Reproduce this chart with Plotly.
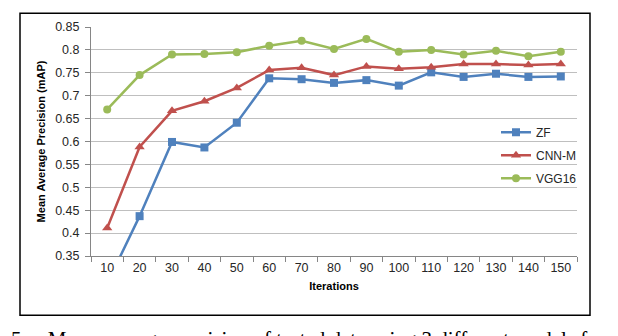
import plotly.graph_objects as go

# iteration checkpoints (x categories)
iterations = ["10", "20", "30", "40", "50", "60", "70", "80",
              "90", "100", "110", "120", "130", "140", "150"]

# mean average precision per model
zf = [0.29, 0.437, 0.599, 0.587, 0.641, 0.738, 0.736, 0.728,
      0.734, 0.722, 0.751, 0.741, 0.748, 0.741, 0.742]
cnn_m = [0.411, 0.588, 0.667, 0.688, 0.717, 0.756, 0.761, 0.745,
         0.764, 0.759, 0.762, 0.769, 0.769, 0.767, 0.769]
vgg16 = [0.67, 0.745, 0.79, 0.791, 0.795, 0.809, 0.82, 0.802,
         0.824, 0.796, 0.80, 0.79, 0.798, 0.786, 0.796]

series = [
    ("ZF", zf, "#4F81BD", "square", 8),
    ("CNN-M", cnn_m, "#C0504D", "triangle-up", 9),
    ("VGG16", vgg16, "#9BBB59", "circle", 8),
]

fig = go.Figure()
for name, vals, color, symbol, msize in series:
    fig.add_trace(go.Scatter(
        x=iterations, y=vals, name=name, mode="lines+markers",
        line=dict(color=color, width=2.5),
        marker=dict(symbol=symbol, size=msize, color=color),
        legendgroup=name,
    ))

W, H = 618, 336
L, R, T, B = 83, 49, 16, 88
pw, ph = W - L - R, H - T - B

def px_x(x):
    return (x - L) / pw

def px_y(y):
    return (H - B - y) / ph

tick_font = dict(family="Liberation Sans", size=12.5, color="#262626")

fig.update_layout(
    width=W, height=H,
    margin=dict(l=L, r=R, t=T, b=B),
    paper_bgcolor="white", plot_bgcolor="white",
    font=dict(family="Liberation Sans", color="#000000"),
    legend=dict(
        x=px_x(488), y=px_y(108), xanchor="left", yanchor="top",
        bgcolor="rgba(0,0,0,0)", font=dict(size=12, color="#262626"),
        tracegroupgap=4, itemwidth=30,
    ),
    showlegend=True,
)

fig.update_xaxes(
    type="category", range=[-0.5, 14.5],
    showline=True, linecolor="#868686", linewidth=1,
    ticks="outside", tickson="boundaries", ticklen=5, tickcolor="#868686",
    showgrid=False, tickfont=tick_font,
    title=dict(text="<b>Iterations</b>", font=dict(size=11), standoff=8),
)
fig.update_yaxes(
    range=[0.35, 0.85], dtick=0.05, tickformat="~g",
    showline=True, linecolor="#868686", linewidth=1,
    ticks="outside", ticklen=5, tickcolor="#868686", ticklabelstandoff=3,
    showgrid=True, gridcolor="#BFBFBF", gridwidth=1,
    tickfont=tick_font, zeroline=False,
    title=dict(text="<b>Mean Average Precision (mAP)</b>", font=dict(size=11), standoff=7),
)

# chart frame
fig.add_shape(
    type="rect", xref="paper", yref="paper",
    x0=px_x(12), x1=px_x(582), y0=px_y(308), y1=px_y(2),
    line=dict(color="black", width=1.5), layer="below",
)

# figure caption, cut off by the page edge as in the source
fig.add_annotation(
    xref="paper", yref="paper", x=px_x(1), y=px_y(318),
    xanchor="left", yanchor="top", showarrow=False,
    text="5.    Mean average precision of tested data using 3 different models for",
    font=dict(family="Liberation Serif", size=21, color="black"),
)

fig.write_html("out.html")
